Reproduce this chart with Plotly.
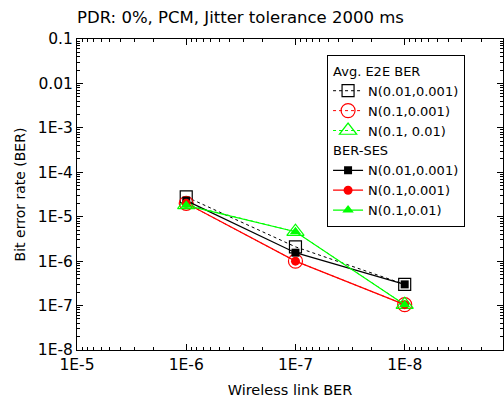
import plotly.graph_objects as go

x_ber = [1e-6, 1e-7, 1e-8]

e2e_n001_0001 = [2.8e-5, 2.1e-6, 3.0e-7]
e2e_n01_0001 = [2.0e-5, 1.0e-6, 1.05e-7]
e2e_n01_001 = [1.85e-5, 4.6e-6, 1.05e-7]

ses_n001_0001 = [2.3e-5, 1.55e-6, 3.0e-7]
ses_n01_0001 = [2.0e-5, 1.0e-6, 1.05e-7]
ses_n01_001 = [1.8e-5, 4.6e-6, 1.05e-7]

x_tickvals = [1e-5, 1e-6, 1e-7, 1e-8]
x_ticktext = ["1E-5", "1E-6", "1E-7", "1E-8"]
y_tickvals = [1e-1, 1e-2, 1e-3, 1e-4, 1e-5, 1e-6, 1e-7, 1e-8]
y_ticktext = ["0.1", "0.01", "1E-3", "1E-4", "1E-5", "1E-6", "1E-7", "1E-8"]

X_RANGE = [-5, -8.9]
Y_RANGE = [-8, -1]

FONT = "DejaVu Sans, sans-serif"
GREEN = "#00ff00"
LEG_SIZE = 13

fig = go.Figure()

open_specs = [
    (e2e_n001_0001, "N(0.01,0.001)", "black", "square-open", 12),
    (e2e_n01_0001, "N(0.1,0.001)", "red", "circle-open", 14),
    (e2e_n01_001, "N(0.1, 0.01)", GREEN, "triangle-up-open", 15),
]
for ys, name, col, sym, sz in open_specs:
    fig.add_trace(go.Scatter(
        x=x_ber, y=ys, name=name, mode="lines+markers",
        line=dict(color=col, width=1, dash="dot"),
        marker=dict(symbol=sym, size=sz, color=col, line=dict(width=1.2, color=col)),
        legendgroup="e2e",
        legendgrouptitle=dict(text="Avg. E2E BER", font=dict(size=LEG_SIZE, color="black", family=FONT)),
    ))

filled_specs = [
    (ses_n001_0001, "N(0.01,0.001)", "black", "square", 8),
    (ses_n01_0001, "N(0.1,0.001)", "red", "circle", 9),
    (ses_n01_001, "N(0.1,0.01)", GREEN, "triangle-up", 10),
]
for ys, name, col, sym, sz in filled_specs:
    fig.add_trace(go.Scatter(
        x=x_ber, y=ys, name=name, mode="lines+markers",
        line=dict(color=col, width=1.2),
        marker=dict(symbol=sym, size=sz, color=col),
        legendgroup="ses",
        legendgrouptitle=dict(text="BER-SES", font=dict(size=LEG_SIZE, color="black", family=FONT)),
    ))

# invisible trace that anchors the overlay axes used for minor ticks
fig.add_trace(go.Scatter(
    x=x_ber, y=ses_n01_0001, xaxis="x2", yaxis="y2", mode="markers",
    marker=dict(opacity=0), showlegend=False, hoverinfo="skip",
))

axis_common = dict(
    type="log", showgrid=False, zeroline=False,
    showline=True, linecolor="black", linewidth=1, mirror="ticks",
    ticks="inside", ticklen=6, tickwidth=1, tickcolor="black", tickmode="array",
    tickfont=dict(size=15.5, color="black", family=FONT),
)

minor_common = dict(
    type="log", showgrid=False, zeroline=False,
    showline=True, linecolor="black", linewidth=1, mirror="ticks",
    ticks="inside", ticklen=3, tickwidth=1, tickcolor="black",
    tickmode="linear", tick0=0, dtick="D1",
    showticklabels=False,
)

fig.update_layout(
    xaxis=dict(
        **axis_common,
        range=X_RANGE,
        tickvals=x_tickvals, ticktext=x_ticktext,
        title=dict(text="Wireless link BER", font=dict(size=14.5, color="black", family=FONT), standoff=12),
    ),
    yaxis=dict(
        **axis_common,
        range=Y_RANGE,
        tickvals=y_tickvals, ticktext=y_ticktext,
        title=dict(text="Bit error rate (BER)", font=dict(size=14, color="black", family=FONT), standoff=8),
    ),
    xaxis2=dict(**minor_common, range=X_RANGE, overlaying="x", side="bottom", anchor="y2"),
    yaxis2=dict(**minor_common, range=Y_RANGE, overlaying="y", side="left", anchor="x2"),
)

fig.update_layout(
    width=504, height=402,
    margin=dict(l=77, r=1, t=39, b=52),
    paper_bgcolor="white", plot_bgcolor="white",
    font=dict(family=FONT, color="black"),
    title=dict(text="PDR: 0%, PCM, Jitter tolerance 2000 ms", x=77/504, xanchor="left",
               y=1 - 17/402, yanchor="middle", font=dict(size=16.5, color="black", family=FONT)),
    legend=dict(
        x=0.587, y=0.949, xanchor="left", yanchor="top",
        bordercolor="black", borderwidth=1, bgcolor="white",
        font=dict(size=LEG_SIZE, color="black", family=FONT),
        tracegroupgap=0, traceorder="grouped",
    ),
    showlegend=True,
)

fig.write_html("out.html")
